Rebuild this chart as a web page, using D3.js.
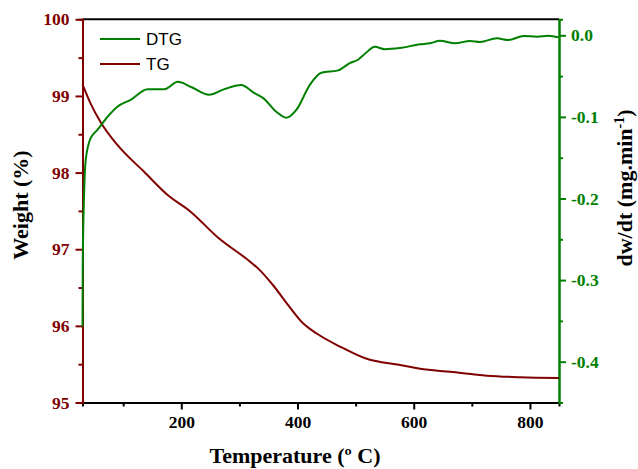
<!DOCTYPE html>
<html><head><meta charset="utf-8">
<script src="https://cdn.jsdelivr.net/npm/d3@7"></script>
<style>body{margin:0;background:#fff}svg{display:block}</style>
</head><body>
<svg id="c" width="638" height="469"></svg>
<script>
const tgTemp = [30,44,61,90,136,176,216,262,318,332,358,385,410,433,473,519,576,611,663,726,783,850];
const tgWeight = [99.15,98.90,98.66,98.36,98.01,97.71,97.49,97.16,96.84,96.75,96.53,96.26,96.03,95.90,95.73,95.57,95.49,95.44,95.40,95.35,95.33,95.32];
const dtgTemp = [30,30.5,32.8,35.5,44,55.7,73,90,113,142,171,194,216,248,274,303,326,341,364,381,398,421,441,470,490,504,517,533,550,576,611,628,645,671,697,714,743,763,789,812,832,849];
const dtgValue = [-0.357,-0.275,-0.194,-0.153,-0.126,-0.116,-0.100,-0.0875,-0.079,-0.066,-0.066,-0.057,-0.063,-0.073,-0.066,-0.061,-0.071,-0.077,-0.094,-0.101,-0.0915,-0.061,-0.046,-0.043,-0.034,-0.030,-0.022,-0.014,-0.017,-0.0156,-0.011,-0.0098,-0.0066,-0.0098,-0.007,-0.0082,-0.0037,-0.0058,-0.0009,-0.0017,-0.0005,-0.0025];
const xMajor = [200,400,600,800], xMinor = [100,300,500,700];
const yLMajor = [95,96,97,98,99,100], yLMinor = [95.5,96.5,97.5,98.5,99.5];
const yRMajor = [0,-0.1,-0.2,-0.3,-0.4], yRMinor = [-0.05,-0.15,-0.25,-0.35,-0.45];
const seriesNames = ["DTG","TG"];

const red = "#800000", green = "#008000";
const L = 82.5, R = 559, T = 19.3, B = 402.5;
const svg = d3.select("#c");
const x = d3.scaleLinear().domain([30,850]).range([L,R]);
const yL = d3.scaleLinear().domain([95,100]).range([B,T]);
const yR = d3.scaleLinear().domain([-0.45,0.0196]).range([B,T]);
const serif = "'Liberation Serif','Times New Roman',serif";

// top frame
svg.append("line").attr("x1",L).attr("x2",R).attr("y1",T).attr("y2",T).attr("stroke","#000").attr("stroke-width",2);

function styleAxis(g,color,size){
  g.selectAll("path").attr("stroke",color).attr("stroke-width",2);
  g.selectAll("line").attr("stroke",color).attr("stroke-width",2);
  g.selectAll("text").attr("fill",color).attr("font-family",serif).attr("font-weight","bold").attr("font-size",size);
}
// bottom
const gxm = svg.append("g").attr("transform",`translate(0,${B})`).call(d3.axisBottom(x).tickValues(xMinor).tickSize(4).tickFormat(""));
styleAxis(gxm,"#000",15);
const gx = svg.append("g").attr("transform",`translate(0,${B})`).call(d3.axisBottom(x).tickValues(xMajor).tickSize(7).tickSizeOuter(0).tickPadding(6).tickFormat(d3.format("d")));
styleAxis(gx,"#000",17.5);
// left
const glm = svg.append("g").attr("transform",`translate(${L},0)`).call(d3.axisLeft(yL).tickValues(yLMinor).tickSize(4).tickFormat(""));
styleAxis(glm,red,15);
const gl = svg.append("g").attr("transform",`translate(${L},0)`).call(d3.axisLeft(yL).tickValues(yLMajor).tickSize(7).tickSizeOuter(0).tickPadding(6).tickFormat(d3.format("d")));
styleAxis(gl,red,17.5);
// right
const grm = svg.append("g").attr("transform",`translate(${R},0)`).call(d3.axisRight(yR).tickValues(yRMinor).tickSize(4).tickFormat(""));
styleAxis(grm,green,15);
const gr = svg.append("g").attr("transform",`translate(${R},0)`).call(d3.axisRight(yR).tickValues(yRMajor).tickSize(7).tickSizeOuter(0).tickPadding(5).tickFormat(d3.format(".1f")));
styleAxis(gr,green,17.5);
gr.selectAll("text").text(d => d3.format(".1f")(d).replace("−","-"));

// curves
const tgData = tgTemp.map((t,i)=>[t,tgWeight[i]]);
const dtgData = dtgTemp.map((t,i)=>[t,dtgValue[i]]);
svg.append("path").datum(tgData).attr("fill","none").attr("stroke",red).attr("stroke-width",2)
  .attr("d", d3.line().x(d=>x(d[0])).y(d=>yL(d[1])).curve(d3.curveMonotoneX));
svg.append("path").datum(dtgData).attr("fill","none").attr("stroke",green).attr("stroke-width",2)
  .attr("d", d3.line().x(d=>x(d[0])).y(d=>yR(d[1])).curve(d3.curveMonotoneX));

// legend
const leg = [{n:seriesNames[0],c:green,y:39},{n:seriesNames[1],c:red,y:64}];
leg.forEach(l=>{
  svg.append("line").attr("x1",100).attr("x2",140).attr("y1",l.y).attr("y2",l.y).attr("stroke",l.c).attr("stroke-width",2);
  svg.append("text").attr("x",146).attr("y",l.y+6).text(l.n).attr("font-family","'Liberation Sans',Arial,sans-serif").attr("font-size",17).attr("fill","#000");
});

// axis titles
svg.append("text").attr("x",295).attr("y",463).attr("text-anchor","middle").attr("font-family",serif).attr("font-weight","bold").attr("font-size",22).text("Temperature (º C)");
svg.append("text").attr("transform","translate(28,205) rotate(-90)").attr("text-anchor","middle").attr("font-family",serif).attr("font-weight","bold").attr("font-size",22).text("Weight (%)");
const rt = svg.append("text").attr("transform","translate(632,188) rotate(-90)").attr("text-anchor","middle").attr("font-family",serif).attr("font-weight","bold").attr("font-size",22);
rt.append("tspan").text("dw/dt (mg.min");
rt.append("tspan").attr("dy",-8).attr("font-size",14).text("-1");
rt.append("tspan").attr("dy",8).text(")");
</script>
</body></html>
